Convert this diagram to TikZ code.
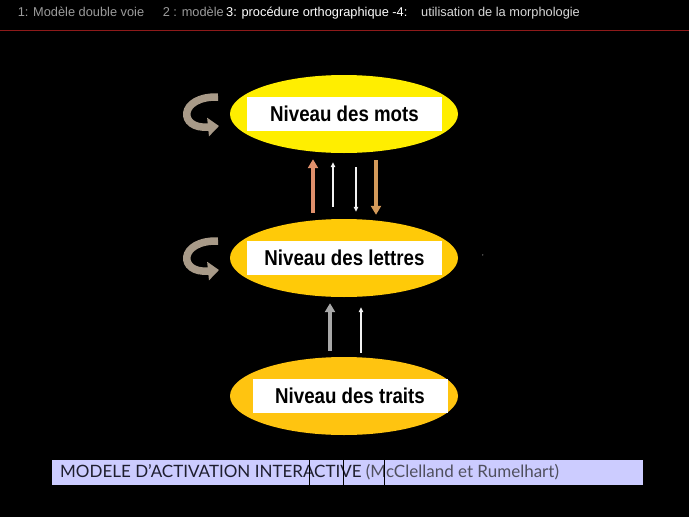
\documentclass[tikz,border=0pt]{standalone}
\usepackage{fontspec}
\setmainfont{Liberation Sans}
\newfontfamily\levelfont{Liberation Sans}[FakeStretch=0.87]
\newfontfamily\barfont{Lato}
\usepackage{xcolor}
\usepackage{tikz}
\usetikzlibrary{shapes.geometric}
\usetikzlibrary{arrows.meta}
\usetikzlibrary{positioning}
\usetikzlibrary{calc}

\definecolor{hdrgray}{HTML}{9C9C9C}
\definecolor{hdrlight}{HTML}{D8D8D8}
\definecolor{rulered}{HTML}{8E1A1A}
\definecolor{motsyellow}{HTML}{FFEE00}
\definecolor{lettresgold}{HTML}{FFCA08}
\definecolor{traitsgold}{HTML}{FFC410}
\definecolor{upsalmon}{HTML}{E0906C}
\definecolor{downtan}{HTML}{D49A5A}
\definecolor{upgray}{HTML}{A8A8A8}
\definecolor{thinwhite}{HTML}{F2F2F2}
\definecolor{loopgray}{HTML}{A89A88}
\definecolor{barlav}{HTML}{CCCCFF}
\definecolor{bartext}{HTML}{1E1E2E}
\definecolor{barref}{HTML}{50505E}

\tikzset{
  hdr/.style={anchor=base west,inner sep=0pt,font=\fontsize{12.8}{14}\selectfont},
  levelnode/.style={ellipse,minimum width=228pt,minimum height=78pt,inner sep=0pt},
  levelbox/.style={fill=white,minimum width=195pt,minimum height=34pt,inner sep=0pt,
    font=\levelfont\bfseries\fontsize{21.5}{24}\selectfont},
  thickarrow/.style={line width=4.8pt,-{Triangle[width=10pt,length=9pt]}},
  thinarrow/.style={line width=1.1pt,draw=thinwhite,-{Triangle[width=4.5pt,length=5pt]}},
  selfarrow/.style={line width=7.5pt,draw=loopgray,-{Triangle[width=18pt,length=11pt]}},
}

\begin{document}
\begin{tikzpicture}[x=1pt,y=-1pt]
  \useasboundingbox (0,0) rectangle (689,517);
  \fill[black] (0,0) rectangle (689,517);

  % header
  \node[hdr,text=hdrgray] (hdone) at (17.6,16.5) {1: Modèle double voie};
  \node[hdr,text=hdrgray] (hdtwo) at (162.6,16.5) {2 : modèle};
  \node[hdr,text=white] (hdthree) at (226,16.5) {3: procédure orthographique -4:};
  \node[hdr,text=hdrlight] (hdfour) at (421,16.5) {utilisation de la morphologie};
  \draw[rulered,line width=1.2pt] (0,30.5) -- (689,30.5);

  % levels
  \node[levelnode,fill=motsyellow] (mots) at (344,114) {};
  \node[levelbox] (motsbox) at ([xshift=0.5pt]mots.center) {Niveau des mots};
  \node[levelnode,fill=lettresgold] (lettres) at (344,258) {};
  \node[levelbox] (lettresbox) at ([xshift=0.5pt]lettres.center) {Niveau des lettres};
  \node[levelnode,fill=traitsgold] (traits) at (344,396) {};
  \node[levelbox] (traitsbox) at ([xshift=6pt]traits.center) {Niveau des traits};
  \node[text=white,inner sep=0pt,font=\fontsize{6}{6}\selectfont] (comma) at (483,256) {,};

  % mots <-> lettres
  \draw[thickarrow,draw=upsalmon,shorten <=6pt,shorten >=6pt]
    ([xshift=-31pt]lettres.north) -- ([xshift=-31pt]mots.south);
  \draw[thinarrow,shorten <=12pt,shorten >=9pt]
    ([xshift=-11pt]lettres.north) -- ([xshift=-11pt]mots.south);
  \draw[thinarrow,shorten <=14pt,shorten >=7pt]
    ([xshift=12pt]mots.south) -- ([xshift=12pt]lettres.north);
  \draw[thickarrow,draw=downtan,shorten <=7pt,shorten >=4pt]
    ([xshift=32pt]mots.south) -- ([xshift=32pt]lettres.north);

  % traits -> lettres
  \draw[thickarrow,draw=upgray,shorten <=6pt,shorten >=6pt]
    ([xshift=-14pt]traits.north) -- ([xshift=-14pt]lettres.south);
  \draw[thinarrow,shorten <=4pt,shorten >=10pt]
    ([xshift=17pt]traits.north) -- ([xshift=17pt]lettres.south);

  % self loops
  \foreach \n in {mots,lettres}
    \draw[selfarrow] ($(\n.center)+(-126,-17)$) .. controls +(-40,-1) and +(-41,4) .. ($(\n.center)+(-125,12)$);

  % caption bar
  \node[fill=barlav,minimum width=591pt,minimum height=25pt,inner sep=0pt] (bar) at (347.5,472) {};
  \node[anchor=base west,inner sep=0pt,font=\barfont\fontsize{17}{19}\selectfont] (bartitle) at (60,477.5)
    {\textcolor{bartext}{MODELE D’ACTIVATION INTERACTIVE} \textcolor{barref}{(McClelland et Rumelhart)}};
  \foreach \x in {258,292,333}
    \draw[black,line width=0.8pt] ([xshift=\x pt]bar.north west) -- ([xshift=\x pt]bar.south west);
\end{tikzpicture}
\end{document}
